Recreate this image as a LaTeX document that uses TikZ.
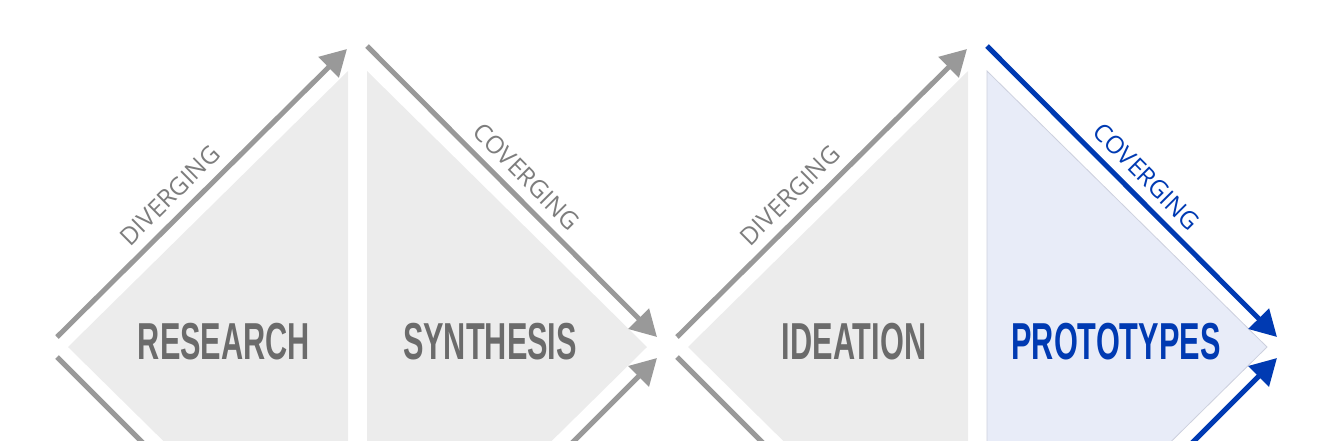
\documentclass[tikz,border=0pt]{standalone}
\usepackage{fontspec}
\usetikzlibrary{arrows.meta}
\newfontfamily\bigfont[FakeStretch=0.59]{Liberation Sans}
\newfontfamily\smallfont{Open Sans}
\definecolor{trigrey}{RGB}{236,236,236}
\definecolor{triblue}{RGB}{232,236,248}
\definecolor{triedge}{RGB}{205,208,222}
\definecolor{linegrey}{RGB}{153,153,153}
\definecolor{ablue}{RGB}{0,58,178}
\definecolor{labgrey}{RGB}{107,107,107}
\definecolor{smallgrey}{RGB}{125,125,125}
\begin{document}
\begin{tikzpicture}[x=1pt,y=-1pt,
  tri/.style={fill=trigrey},
  trib/.style={fill=triblue, draw=triedge, line width=0.8pt},
  flow/.style={draw=linegrey, line width=5pt},
  flowb/.style={draw=ablue, line width=5pt},
  tipped/.style={-{Triangle[length=26pt,width=28pt]}},
  biglab/.style={font=\bigfont\bfseries\fontsize{52}{52}\selectfont, text=labgrey, inner sep=0pt},
  smalllab/.style={font=\smallfont\fontsize{24.5}{24.5}\selectfont, text=smallgrey, inner sep=0pt, sloped, yshift=21pt}]
\useasboundingbox (0,0) rectangle (1340,440);
\clip (0,0) rectangle (1340,440);
% triangles
\fill[tri] (68,347) -- (348,71) -- (348,623) -- cycle;
\fill[tri] (367,71) -- (647,347) -- (367,623) -- cycle;
\fill[tri] (688,347) -- (968,71) -- (968,623) -- cycle;
\draw[trib] (987,71) -- (1267,347) -- (987,623) -- cycle;
% labels
\node[biglab] (research) at (224,342) {RESEARCH};
\node[biglab] (synthesis) at (490,342) {SYNTHESIS};
\node[biglab] (ideation) at (854,342) {IDEATION};
\node[biglab, text=ablue] (prototypes) at (1116,342) {PROTOTYPES};
% coordinates
\coordinate (d1s) at (57,337);
\coordinate (d1e) at (347,49);
\coordinate (c1s) at (367,46);
\coordinate (c1e) at (657,337);
\coordinate (l1s) at (57,357);
\coordinate (l1e) at (177,477);
\coordinate (b2s) at (537,478);
\coordinate (b2e) at (657,358);
\coordinate (d3s) at (677,337);
\coordinate (d3e) at (967,49);
\coordinate (l3s) at (677,357);
\coordinate (l3e) at (797,477);
\coordinate (c4s) at (987,46);
\coordinate (c4e) at (1277,337);
\coordinate (b4s) at (1157,478);
\coordinate (b4e) at (1277,358);
% connectors
\draw[flow, tipped] (d1s) -- node[smalllab, pos=0.44] (div1) {DIVERGING} (d1e);
\draw[flow, tipped] (c1s) -- node[smalllab, pos=0.5] (conv1) {COVERGING} (c1e);
\draw[flow] (l1s) -- (l1e);
\draw[flow, tipped] (b2s) -- (b2e);
\draw[flow, tipped] (d3s) -- node[smalllab, pos=0.44] (div3) {DIVERGING} (d3e);
\draw[flow] (l3s) -- (l3e);
\draw[flowb, tipped] (c4s) -- node[smalllab, pos=0.5, text=ablue] (conv4) {COVERGING} (c4e);
\draw[flowb, tipped] (b4s) -- (b4e);
\end{tikzpicture}
\end{document}
